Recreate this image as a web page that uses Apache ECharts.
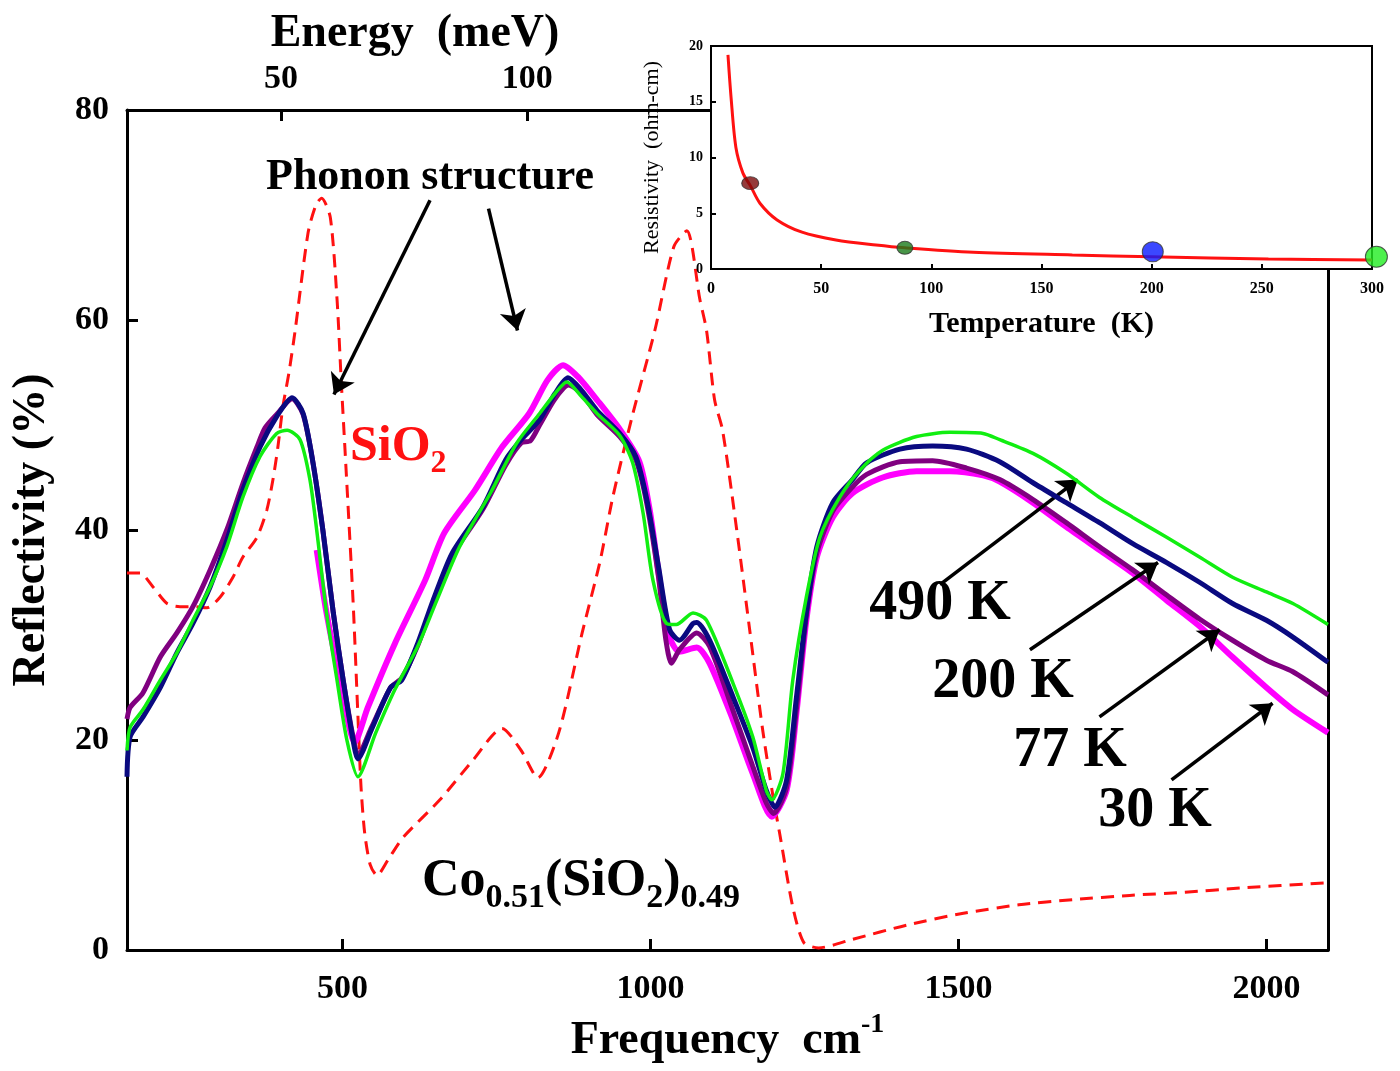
<!DOCTYPE html>
<html>
<head>
<meta charset="utf-8">
<script src="https://cdn.jsdelivr.net/npm/echarts@6/dist/echarts.min.js"></script>
<style>
html,body{margin:0;padding:0;background:#fff;}
#chart{width:1400px;height:1071px;}
</style>
</head>
<body>
<div id="chart"></div>
<script>
// ---------- data ----------
// Frequency (cm^-1) and reflectivity (%) for each temperature
const freq490 = [150,155,176,204,231,257,285,312,338,366,393,410,431,447,458,474,491,507,525,554,585,622,653,690,740,783,820,845,864,888,913,950,971,988,1004,1026,1042,1069,1091,1134,1166,1188,1197,1215,1231,1253,1275,1307,1340,1377,1432,1486,1540,1567,1621,1675,1729,1783,1838,1892,1945,2000,2043,2100];
const refl490 = [19,21.2,22.9,25.7,28.3,31.4,34.6,38.4,43.1,47,49.2,49.5,48.6,44.8,40,32.1,25.7,20,16.5,20.7,24.8,28.9,33.3,38.4,43.5,48.3,51.1,53,54.1,52.7,51.1,49,46.4,41.6,35.2,31.1,31,32.1,31.4,25.4,20.3,15.2,14.3,16.8,25.7,33.6,39.3,43.1,45.7,47.6,48.9,49.3,49.2,48.6,47.3,45.4,43.1,41.2,39.3,37.4,35.5,34.1,33,31];

const freq200 = [150,155,176,204,231,257,285,312,338,366,393,418,436,452,468,485,501,517,525,547,578,596,622,647,678,728,765,790,820,845,866,888,913,950,976,994,1013,1031,1047,1069,1075,1096,1134,1166,1188,1202,1221,1237,1253,1270,1296,1328,1351,1405,1458,1513,1567,1621,1675,1729,1783,1838,1892,1945,2000,2043,2100];
const refl200 = [16.5,20.3,22.2,25,28.3,31.1,34.6,39,43.8,47.9,50.8,52.6,51.1,46.4,40,32.1,25.7,20,18.2,21,25,25.7,29.2,33.3,37.8,42.2,46.7,48.6,50.5,53,54.5,53.3,51.4,49.2,47,42.9,36.5,30.5,29.5,31.1,31.2,29.5,24.1,19.3,15.2,13.6,16.2,24.1,32.1,38.4,42.6,44.8,46.4,47.7,48,47.7,46.5,44.5,42.6,40.7,38.7,36.9,35,33,31.4,29.8,27.4];

const freq77 = [150,155,176,204,231,257,285,312,338,361,374,393,418,436,452,468,485,501,517,525,547,578,596,622,647,678,728,765,790,805,820,845,867,888,913,950,976,994,1013,1025,1034,1047,1075,1096,1134,1166,1188,1200,1221,1237,1253,1270,1296,1328,1351,1405,1458,1513,1567,1621,1675,1729,1783,1838,1892,1945,2000,2043,2100];
const refl77 = [22,23.1,24.5,27.9,30.2,32.7,36.2,40,44.4,47.9,49.7,51,52.5,51,46.4,40,32.1,25.7,20.3,18.6,21.2,25,25.9,29,33,37.5,42,46.2,48.3,48.5,50,52.5,53.8,53,51,48.9,46.7,42.5,35.5,29.5,27.3,28.6,30.2,28.9,22.8,17.5,14,13,15.5,23,31.8,37.8,41.8,44.1,45.3,46.5,46.6,45.9,44.8,42.9,40.7,38.4,36.2,33.8,31.5,29.5,27.6,26.5,24.3];

const freq30 = [458,474,496,520,541,585,634,665,715,759,803,833,858,882,913,950,982,999,1015,1031,1047,1075,1096,1134,1166,1197,1221,1237,1253,1270,1296,1328,1377,1432,1486,1540,1567,1621,1675,1729,1783,1838,1892,1945,2000,2043,2100];
const refl30 = [38.1,32.1,25.7,19.8,23.1,29.2,35.2,39.7,43.8,47.9,51.1,54.3,55.7,54.6,52.4,49.6,46.5,41.8,35.2,29.8,28.4,28.8,27.3,21.9,16.8,12.7,15.2,22.6,31.4,37.4,41.2,43.5,45,45.6,45.6,45.2,44.6,42.6,40.3,38.1,35.9,33.3,30.8,27.9,25,22.9,20.7];

const freqSiO2 = [150,171,192,215,236,257,280,301,322,338,361,377,387,395,403,413,423,444,457,466,480,491,498,504,517,525,530,536,545,556,574,598,658,712,759,790,817,851,889,918,939,971,1007,1038,1059,1080,1091,1104,1117,1140,1161,1182,1199,1210,1231,1249,1273,1327,1418,1508,1598,1687,1778,1868,1958,2100];
const reflSiO2 = [35.9,35.9,34.6,33,32.7,32.7,32.6,33.6,35.5,37.4,39.3,41.9,44.8,47.9,51.7,55,59,68.3,71,71.6,69.8,62,54,47.6,33.3,22.2,15.5,11.1,8.1,7.1,8.6,10.7,14.3,18.1,21.1,19,16.4,20.7,30.2,37,43.2,51,59,67,68.5,62,59,52.4,49.5,40,30.5,21,14.6,11,4.1,0.7,0.2,1,2.4,3.5,4.3,4.8,5.2,5.5,5.9,6.4];

// inset: resistivity vs temperature
const tempK = [7.7,9.1,11.3,14.5,17.8,22.2,30,41.3,56.7,74.9,88,119,164,200,253,300];
const rhoOhmCm = [19.2,15.4,10.9,8.6,7.5,5.9,4.4,3.3,2.6,2.15,1.9,1.5,1.26,1.1,0.9,0.8];
const markTemps = [17.8, 88, 200.5, 302];
const markRhos = [7.7, 1.9, 1.55, 1.1];
const markColors = ['#7a0a0a', '#1a7a1a', '#0a1aff', '#22ee22'];
const markSizes = [[17,13],[16,13],[21,20],[22,21]];

// axis tick labels
const freqTicks = [500, 1000, 1500, 2000];
const energyTicks = [50, 100];
const cmPerMeV = 8;

// annotation labels
const tempLabels = ['490 K', '200 K', '77 K', '30 K'];
// arrows (data coordinates, start -> end)
const phononArrows = [[[642,71.4],[486,52.9]], [[737,70.6],[784,59]]];
const tempArrows = [[[1470,34.8],[1694,44.8]], [[1616,28.6],[1824,36.9]], [[1729,22.2],[1924,30.5]], [[1846,16.2],[2010,23.5]]];

// ---------- chart ----------
const FONT = '"Liberation Serif", "Times New Roman", serif';
const pairs = (xs, ys) => xs.map((x, i) => [x, ys[i]]);
const plain = v => String(v);
const chart = echarts.init(document.getElementById('chart'), null, {renderer: 'canvas'});

const axisLineStyle = {color: '#000', width: 3};
const tickLabel = {fontFamily: FONT, fontSize: 34, fontWeight: 'bold', color: '#000', formatter: plain};

const option = {
  animation: false,
  backgroundColor: '#ffffff',
  grid: [
    {left: 127, top: 110, width: 1201, height: 840, show: false},
    {left: 711, top: 46, width: 661, height: 223, show: true, backgroundColor: '#ffffff',
     borderColor: '#000', borderWidth: 2, z: 5}
  ],
  xAxis: [
    {gridIndex: 0, type: 'value', min: 150, max: 2100, position: 'bottom',
     axisLine: {show: true, onZero: false, lineStyle: axisLineStyle},
     axisTick: {show: true, inside: true, length: 11, lineStyle: {color: '#000', width: 3}, customValues: freqTicks},
     axisLabel: Object.assign({customValues: freqTicks, margin: 22}, tickLabel),
     splitLine: {show: false},
     name: '{a|Frequency  cm}{b|-1}', nameLocation: 'middle', nameGap: 58,
     nameTextStyle: {rich: {
       a: {fontFamily: FONT, fontSize: 46, fontWeight: 'bold', color: '#000', lineHeight: 60},
       b: {fontFamily: FONT, fontSize: 28, fontWeight: 'bold', color: '#000', lineHeight: 28, verticalAlign: 'top'}
     }}},
    {gridIndex: 0, type: 'value', min: 150 / cmPerMeV, max: 2100 / cmPerMeV, position: 'top',
     axisLine: {show: true, onZero: false, lineStyle: axisLineStyle},
     axisTick: {show: true, inside: true, length: 11, lineStyle: {color: '#000', width: 3}, customValues: energyTicks},
     axisLabel: Object.assign({customValues: energyTicks, margin: 14}, tickLabel),
     splitLine: {show: false}},
    {gridIndex: 1, type: 'value', min: 0, max: 300, interval: 50, z: 6,
     axisLine: {show: true, onZero: false, lineStyle: {color: '#000', width: 2}},
     axisTick: {show: true, inside: true, length: 5, lineStyle: {color: '#000', width: 2}},
     axisLabel: {fontFamily: FONT, fontSize: 16, fontWeight: 'bold', color: '#000', margin: 12},
     splitLine: {show: false},
     name: 'Temperature  (K)', nameLocation: 'middle', nameGap: 40,
     nameTextStyle: {fontFamily: FONT, fontSize: 30, fontWeight: 'bold', color: '#000'}}
  ],
  yAxis: [
    {gridIndex: 0, type: 'value', min: 0, max: 80, interval: 20,
     axisLine: {show: true, onZero: false, lineStyle: axisLineStyle},
     axisTick: {show: true, inside: true, length: 11, lineStyle: {color: '#000', width: 3}},
     axisLabel: Object.assign({margin: 18}, tickLabel),
     splitLine: {show: false},
     name: 'Reflectivity (%)', nameLocation: 'middle', nameGap: 72,
     nameTextStyle: {fontFamily: FONT, fontSize: 46, fontWeight: 'bold', color: '#000'}},
    {gridIndex: 0, type: 'value', min: 0, max: 80, position: 'right',
     axisLine: {show: true, onZero: false, lineStyle: axisLineStyle},
     axisTick: {show: false}, axisLabel: {show: false}, splitLine: {show: false}},
    {gridIndex: 1, type: 'value', min: 0, max: 20, interval: 5, z: 6,
     axisLine: {show: true, onZero: false, lineStyle: {color: '#000', width: 2}},
     axisTick: {show: true, inside: true, length: 5, lineStyle: {color: '#000', width: 2}},
     axisLabel: {fontFamily: FONT, fontSize: 14, fontWeight: 'bold', color: '#000', margin: 8},
     splitLine: {show: false},
     name: 'Resistivity  (ohm-cm)', nameLocation: 'middle', nameGap: 48,
     nameTextStyle: {fontFamily: FONT, fontSize: 22, color: '#000'}}
  ],
  series: [
    {name: 'SiO2', type: 'line', xAxisIndex: 0, yAxisIndex: 0, data: pairs(freqSiO2, reflSiO2),
     showSymbol: false, smooth: 0.25, z: 2,
     lineStyle: {color: '#ff1111', width: 3, type: [13, 8]}},
    {name: '30 K', type: 'line', xAxisIndex: 0, yAxisIndex: 0, data: pairs(freq30, refl30),
     showSymbol: false, smooth: 0.25, z: 3, lineStyle: {color: '#ff00ff', width: 6}},
    {name: '77 K', type: 'line', xAxisIndex: 0, yAxisIndex: 0, data: pairs(freq77, refl77),
     showSymbol: false, smooth: 0.25, z: 4, lineStyle: {color: '#800080', width: 5}},
    {name: '200 K', type: 'line', xAxisIndex: 0, yAxisIndex: 0, data: pairs(freq200, refl200),
     showSymbol: false, smooth: 0.25, z: 5, lineStyle: {color: '#0a0a80', width: 5}},
    {name: '490 K', type: 'line', xAxisIndex: 0, yAxisIndex: 0, data: pairs(freq490, refl490),
     showSymbol: false, smooth: 0.25, z: 6, lineStyle: {color: '#11ee11', width: 3.5}},
    {name: 'arrows', type: 'line', xAxisIndex: 0, yAxisIndex: 0, data: [], z: 8,
     markLine: {silent: true, symbol: ['none', 'arrow'], symbolSize: 20, label: {show: false},
       lineStyle: {color: '#000', width: 3.5, type: 'solid'},
       emphasis: {disabled: true},
       data: phononArrows.concat(tempArrows).map(a => [{coord: a[0]}, {coord: a[1]}])}},
    {name: 'resistivity', type: 'line', xAxisIndex: 2, yAxisIndex: 2, data: pairs(tempK, rhoOhmCm),
     showSymbol: false, smooth: 0.3, z: 7, lineStyle: {color: '#ff1111', width: 3}},
    {name: 'samples', type: 'scatter', xAxisIndex: 2, yAxisIndex: 2, z: 8, clip: false,
     data: markTemps.map((t, i) => ({value: [t, markRhos[i]], symbolSize: markSizes[i],
       itemStyle: {color: markColors[i], borderColor: '#333', borderWidth: 1}}))}
  ],
  graphic: [
    {type: 'text', x: 415, y: 34, z: 20, style: {text: 'Energy  (meV)', font: 'bold 46px ' + FONT, fill: '#000', align: 'center', verticalAlign: 'middle'}},
    {type: 'text', x: 430, y: 178, z: 20, style: {text: 'Phonon structure', font: 'bold 44px ' + FONT, fill: '#000', align: 'center', verticalAlign: 'middle'}},
    {type: 'text', x: 350, y: 447, z: 20, style: {text: '{a|SiO}{b|2}', fill: '#ff1111', align: 'left', verticalAlign: 'middle',
      rich: {a: {font: 'bold 50px ' + FONT, fill: '#ff1111', lineHeight: 66}, b: {font: 'bold 32px ' + FONT, fill: '#ff1111', lineHeight: 28, verticalAlign: 'bottom'}}}},
    {type: 'text', x: 581, y: 882, z: 20, style: {text: '{a|Co}{b|0.51}{a|(SiO}{b|2}{a|)}{b|0.49}', fill: '#000', align: 'center', verticalAlign: 'middle',
      rich: {a: {font: 'bold 52px ' + FONT, fill: '#000', lineHeight: 66}, b: {font: 'bold 34px ' + FONT, fill: '#000', lineHeight: 28, verticalAlign: 'bottom'}}}},
    {type: 'text', x: 940, y: 605, z: 20, style: {text: tempLabels[0], font: 'bold 56px ' + FONT, fill: '#000', align: 'center', verticalAlign: 'middle'}},
    {type: 'text', x: 1003, y: 683, z: 20, style: {text: tempLabels[1], font: 'bold 56px ' + FONT, fill: '#000', align: 'center', verticalAlign: 'middle'}},
    {type: 'text', x: 1070, y: 752, z: 20, style: {text: tempLabels[2], font: 'bold 56px ' + FONT, fill: '#000', align: 'center', verticalAlign: 'middle'}},
    {type: 'text', x: 1155, y: 812, z: 20, style: {text: tempLabels[3], font: 'bold 56px ' + FONT, fill: '#000', align: 'center', verticalAlign: 'middle'}}
  ]
};
chart.setOption(option);
</script>
</body>
</html>
